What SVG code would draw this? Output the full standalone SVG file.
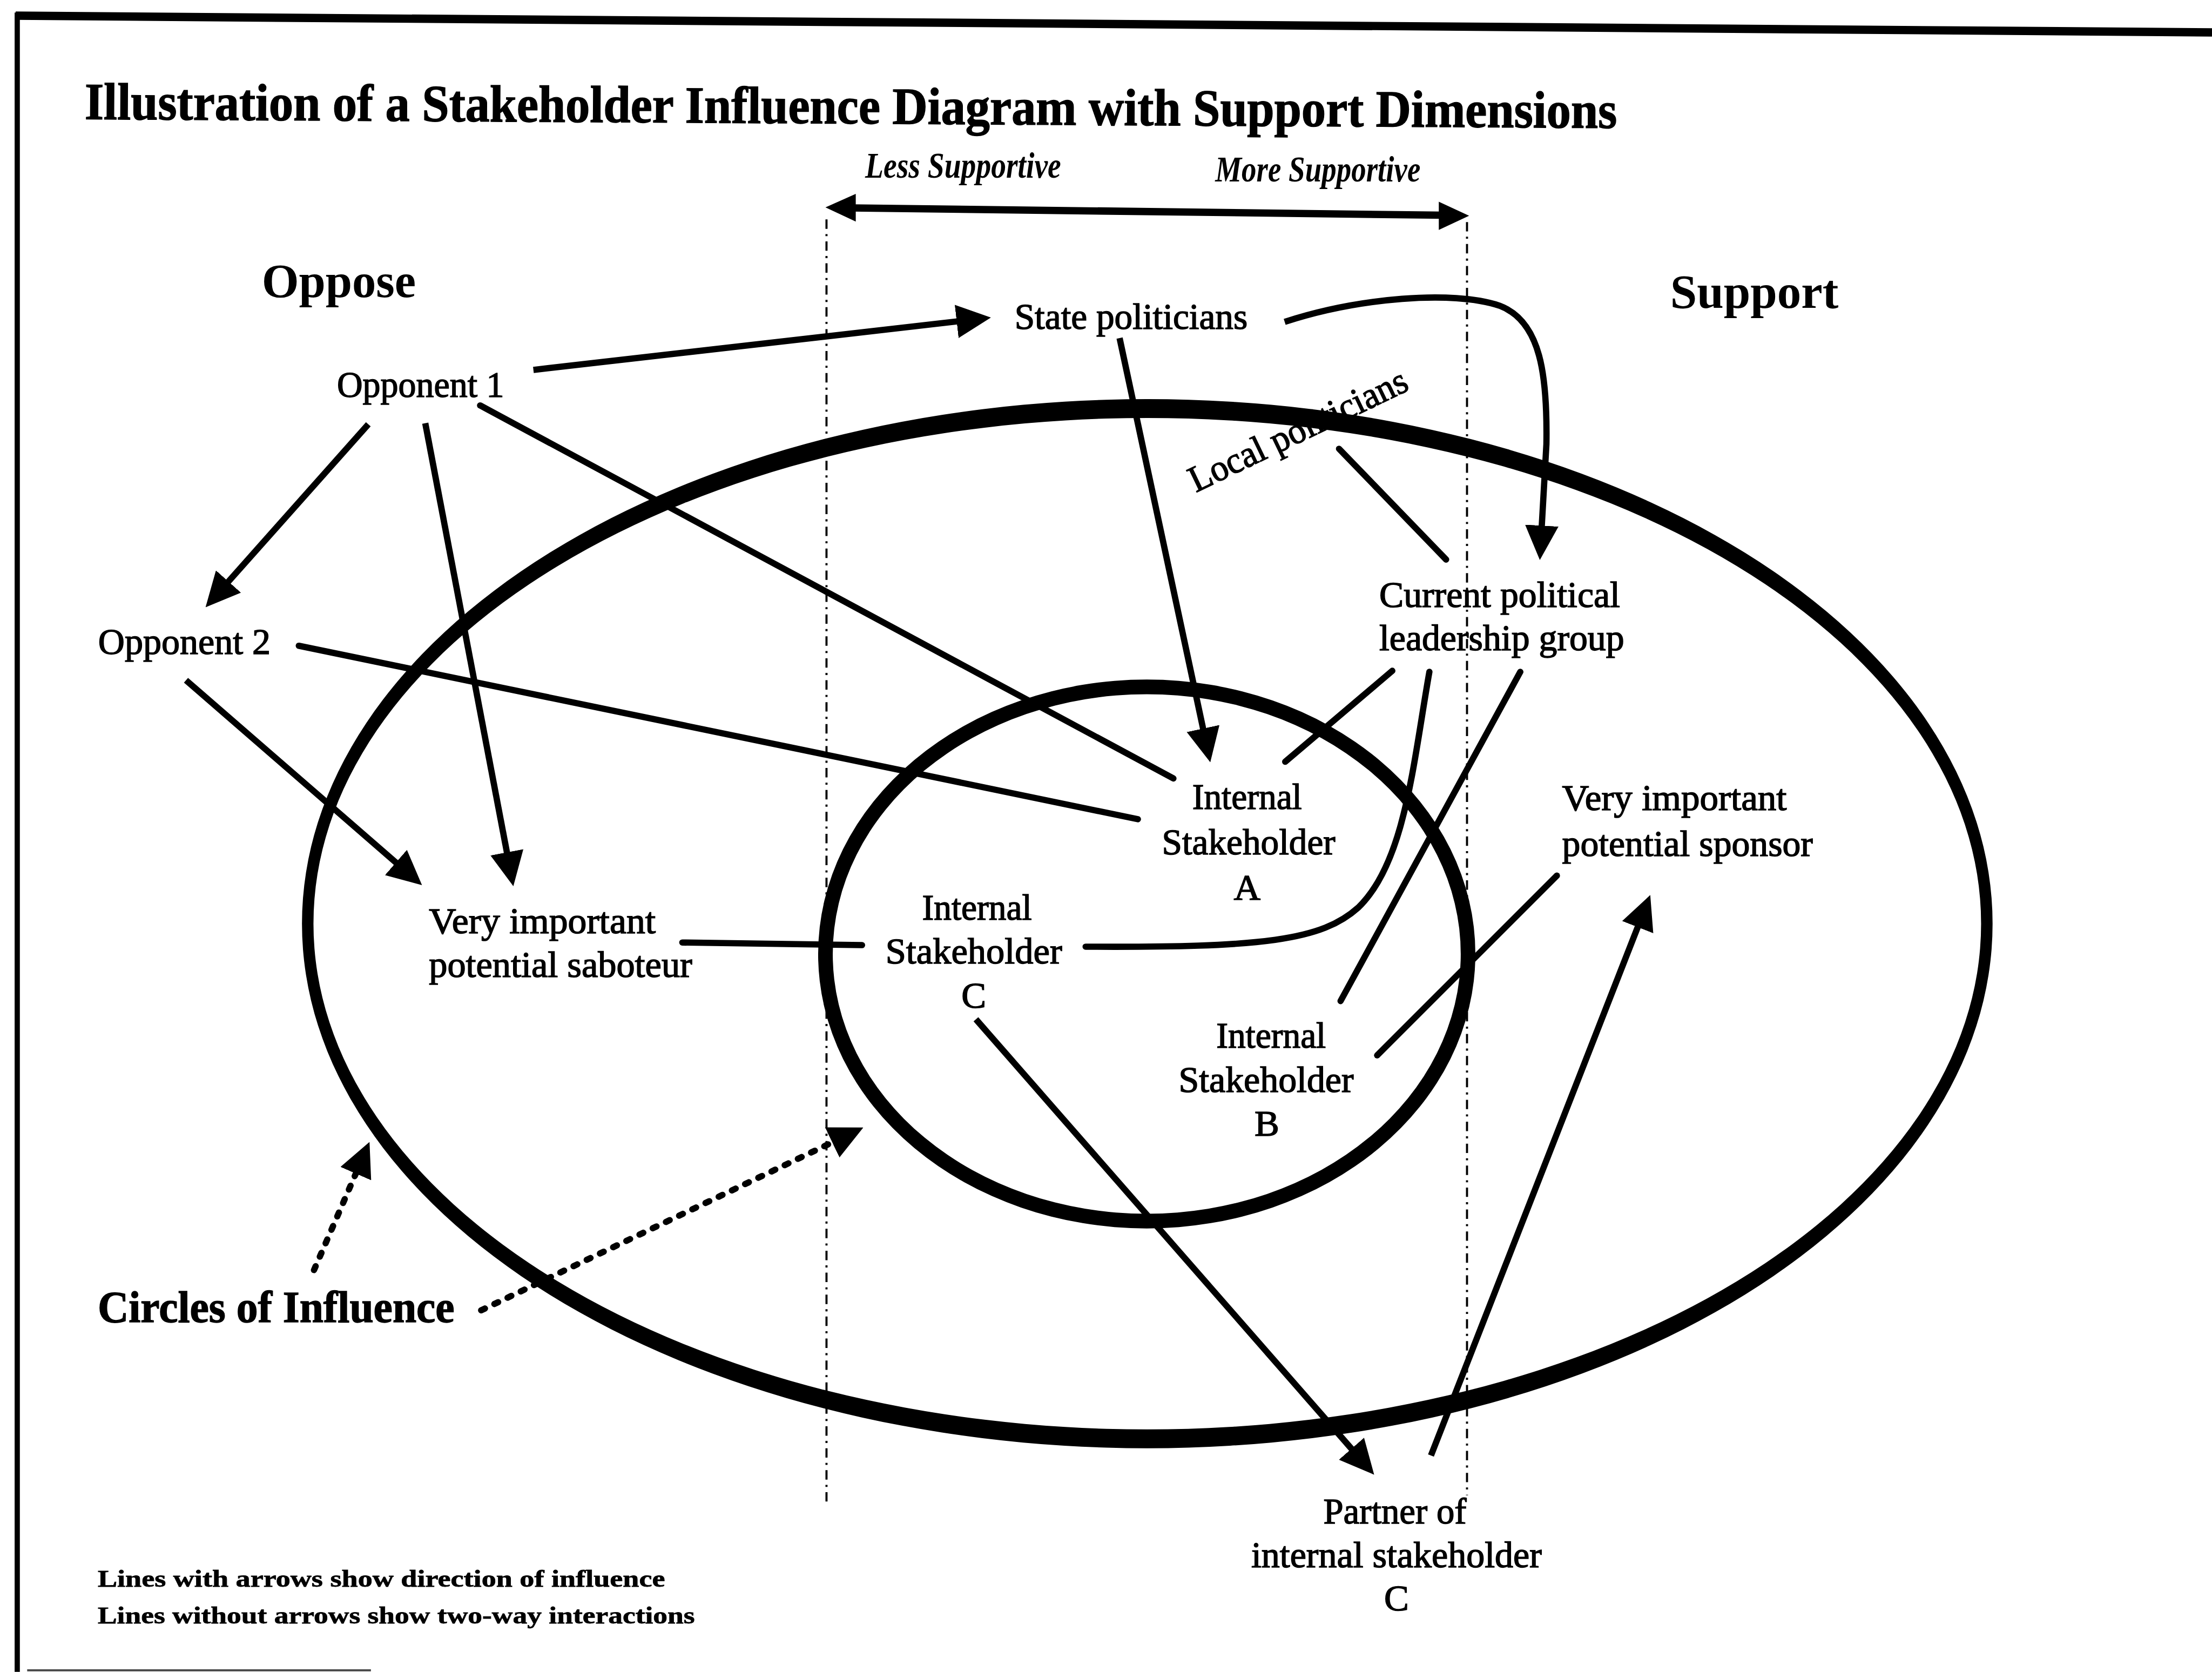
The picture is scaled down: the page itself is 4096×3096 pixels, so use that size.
<svg xmlns="http://www.w3.org/2000/svg" width="4096" height="3096" viewBox="0 0 4096 3096">
  <style>
    text { font-family: "Liberation Serif", "Times New Roman", serif; fill: #000; }
    .lbl { font-size: 71px; stroke: #000; stroke-width: 1.6; }
    .head { font-size: 92px; font-weight: bold; }
    .axis { font-size: 70px; font-weight: bold; font-style: italic; }
    .legend { font-size: 45px; font-weight: bold; stroke: #000; stroke-width: 0.8; }
    .ln { fill: none; stroke: #000; stroke-width: 12; stroke-linecap: round; }
    .arr { fill: none; stroke: #000; stroke-width: 12; stroke-linecap: butt; }
    .dot { fill: none; stroke: #000; stroke-width: 12; stroke-linecap: round; stroke-dasharray: 8 20; }
    .guide { fill: none; stroke: #000; stroke-width: 4; stroke-dasharray: 18 10 4 10; }
    .ring { fill: #000; fill-rule: evenodd; stroke: none; }
  </style>
  <defs>
    <marker id="ah" viewBox="0 0 66 64" refX="20" refY="32" markerWidth="66" markerHeight="64" markerUnits="userSpaceOnUse" orient="auto">
      <path d="M0,0 L66,32 L0,64 Z" fill="#000"/>
    </marker>
  </defs>
  <rect x="0" y="0" width="4096" height="3096" fill="#fff"/>
  <g transform="scale(0.96741)">
    <!-- frame -->
    <g id="frame">
      <line x1="30" y1="30" x2="4234" y2="62" stroke="#000" stroke-width="16"/>
      <line x1="33" y1="24" x2="33" y2="3200" stroke="#000" stroke-width="10"/>
      <line x1="52" y1="3197" x2="710" y2="3197" stroke="#444" stroke-width="4"/>
    </g>

    <!-- title and support scale -->
    <g id="title">
      <text x="162" y="228" font-size="100" font-weight="bold" stroke="#000" stroke-width="1.5" textLength="2933" lengthAdjust="spacingAndGlyphs" transform="rotate(0.33 162 228)">Illustration of a Stakeholder Influence Diagram with Support Dimensions</text>
    </g>
    <g id="support-scale">
      <text class="axis" x="1656" y="340" textLength="375" lengthAdjust="spacingAndGlyphs">Less Supportive</text>
      <text class="axis" x="2326" y="347" textLength="393" lengthAdjust="spacingAndGlyphs">More Supportive</text>
      <line x1="1630" y1="398" x2="2765" y2="412" stroke="#000" stroke-width="14"/>
      <polygon points="1580,397 1638,371 1638,424" fill="#000"/>
      <polygon points="2812,413 2754,386 2754,440" fill="#000"/>
      <line class="guide" x1="1582" y1="420" x2="1582" y2="2884"/>
      <line class="guide" x1="2808" y1="425" x2="2808" y2="2862"/>
    </g>

    <g id="oppose"><text class="head" x="501" y="569" textLength="295" lengthAdjust="spacingAndGlyphs">Oppose</text></g>
    <g id="support"><text class="head" x="3197" y="589" textLength="322" lengthAdjust="spacingAndGlyphs">Support</text></g>

    <!-- label partly hidden under the outer circle -->
    <g id="local-politicians">
      <text class="lbl" x="2289" y="943" font-size="70" stroke-width="0.8" transform="rotate(-25.7 2289 943)" textLength="456" lengthAdjust="spacingAndGlyphs">Local politicians</text>
    </g>

    <!-- circles of influence -->
    <g id="circles">
      <path class="ring" d="M578,1768 a1618,1004 0 1,0 3236,0 a1618,1004 0 1,0 -3236,0 Z M600,1768 a1596,968 0 1,0 3192,0 a1596,968 0 1,0 -3192,0 Z"/>
      <path class="ring" d="M1566,1826 a629,525 0 1,0 1258,0 a629,525 0 1,0 -1258,0 Z M1594,1826 a601,497 0 1,0 1202,0 a601,497 0 1,0 -1202,0 Z"/>
    </g>

    <!-- connectors -->
    <g id="connectors">
      <!-- influence (arrows) -->
      <line class="arr" x1="705" y1="812" x2="424" y2="1128" stroke-width="14" marker-end="url(#ah)"/>
      <line class="arr" x1="814" y1="810" x2="974" y2="1651" stroke-width="10" marker-end="url(#ah)"/>
      <line class="arr" x1="1021" y1="708" x2="1851" y2="613" stroke-width="14" marker-end="url(#ah)"/>
      <line class="arr" x1="356" y1="1302" x2="773" y2="1664" marker-end="url(#ah)"/>
      <line class="arr" x1="2143" y1="647" x2="2307" y2="1414" stroke-width="10" marker-end="url(#ah)"/>
      <path class="arr" d="M2459,616 C2600,570 2780,555 2870,585 C2950,615 2962,720 2960,850 L2950,1026" marker-end="url(#ah)"/>
      <line class="arr" x1="1868" y1="1951" x2="2600" y2="2788" stroke-width="10" marker-end="url(#ah)"/>
      <line class="arr" x1="2739" y1="2786" x2="3142" y2="1756" stroke-width="10" marker-end="url(#ah)"/>
      <!-- two-way interactions -->
      <line class="ln" x1="919" y1="776" x2="2246" y2="1490"/>
      <line class="ln" x1="572" y1="1236" x2="2178" y2="1568" stroke-width="15"/>
      <line class="ln" x1="1306" y1="1804" x2="1650" y2="1809" stroke-width="14"/>
      <line class="ln" x1="2563" y1="859" x2="2768" y2="1071"/>
      <line class="ln" x1="2665" y1="1284" x2="2460" y2="1458" stroke-width="10"/>
      <path class="ln" d="M2736,1286 C2705,1460 2690,1650 2600,1737 C2530,1800 2420,1814 2078,1812" stroke-width="11"/>
      <line class="ln" x1="2910" y1="1286" x2="2566" y2="1916" stroke-width="10"/>
      <line class="ln" x1="2980" y1="1676" x2="2636" y2="2020" stroke-width="11"/>
      <!-- pointers to the circles -->
      <line class="dot" x1="601" y1="2431" x2="689" y2="2228" marker-end="url(#ah)"/>
      <line class="dot" x1="921" y1="2508" x2="1611" y2="2178" marker-end="url(#ah)"/>
    </g>

    <!-- stakeholders -->
    <g id="opponent-1"><text class="lbl" x="645" y="760" textLength="320" lengthAdjust="spacingAndGlyphs">Opponent 1</text></g>
    <g id="opponent-2"><text class="lbl" x="188" y="1252" textLength="330" lengthAdjust="spacingAndGlyphs">Opponent 2</text></g>
    <g id="state-politicians"><text class="lbl" x="1942" y="630" textLength="446" lengthAdjust="spacingAndGlyphs">State politicians</text></g>
    <g id="saboteur">
      <text class="lbl" x="821" y="1786" textLength="434" lengthAdjust="spacingAndGlyphs">Very important</text>
      <text class="lbl" x="821" y="1870" textLength="504" lengthAdjust="spacingAndGlyphs">potential saboteur</text>
    </g>
    <g id="internal-c">
      <text class="lbl" x="1765" y="1760" textLength="210" lengthAdjust="spacingAndGlyphs">Internal</text>
      <text class="lbl" x="1695" y="1844" textLength="338" lengthAdjust="spacingAndGlyphs">Stakeholder</text>
      <text class="lbl" x="1864" y="1929" text-anchor="middle">C</text>
    </g>
    <g id="internal-a">
      <text class="lbl" x="2282" y="1548" textLength="210" lengthAdjust="spacingAndGlyphs">Internal</text>
      <text class="lbl" x="2224" y="1635" textLength="332" lengthAdjust="spacingAndGlyphs">Stakeholder</text>
      <text class="lbl" x="2387" y="1722" text-anchor="middle">A</text>
    </g>
    <g id="internal-b">
      <text class="lbl" x="2328" y="2005" textLength="210" lengthAdjust="spacingAndGlyphs">Internal</text>
      <text class="lbl" x="2256" y="2090" textLength="335" lengthAdjust="spacingAndGlyphs">Stakeholder</text>
      <text class="lbl" x="2425" y="2174" text-anchor="middle">B</text>
    </g>
    <g id="leadership-group">
      <text class="lbl" x="2640" y="1162" textLength="461" lengthAdjust="spacingAndGlyphs">Current political</text>
      <text class="lbl" x="2640" y="1245" textLength="469" lengthAdjust="spacingAndGlyphs">leadership group</text>
    </g>
    <g id="sponsor">
      <text class="lbl" x="2990" y="1551" textLength="430" lengthAdjust="spacingAndGlyphs">Very important</text>
      <text class="lbl" x="2990" y="1638" textLength="480" lengthAdjust="spacingAndGlyphs">potential sponsor</text>
    </g>
    <g id="partner-c">
      <text class="lbl" x="2533" y="2916" textLength="274" lengthAdjust="spacingAndGlyphs">Partner of</text>
      <text class="lbl" x="2395" y="3000" textLength="556" lengthAdjust="spacingAndGlyphs">internal stakeholder</text>
      <text class="lbl" x="2673" y="3082" text-anchor="middle">C</text>
    </g>

    <g id="circles-label"><text x="187" y="2530" font-size="86" font-weight="bold" stroke="#000" stroke-width="1.5" textLength="683" lengthAdjust="spacingAndGlyphs">Circles of Influence</text></g>

    <g id="legend">
      <text class="legend" x="187" y="3037" textLength="1086" lengthAdjust="spacingAndGlyphs">Lines with arrows show direction of influence</text>
      <text class="legend" x="187" y="3107" textLength="1143" lengthAdjust="spacingAndGlyphs">Lines without arrows show two-way interactions</text>
    </g>
  </g>
</svg>
